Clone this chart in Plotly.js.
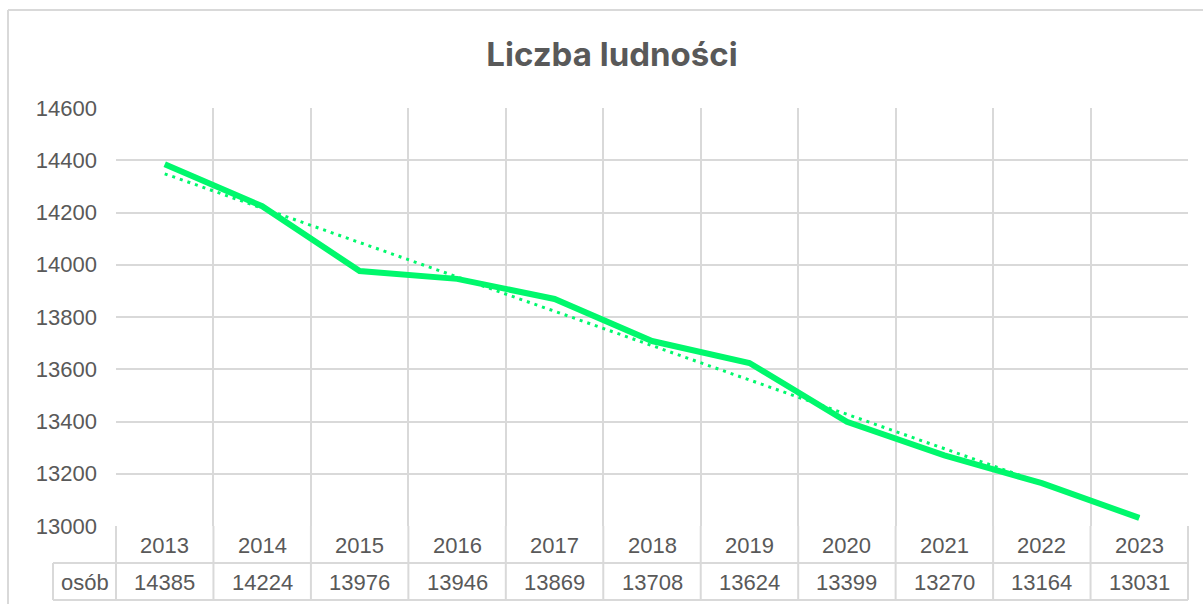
<!DOCTYPE html>
<html>
<head>
<meta charset="utf-8">
<script src="https://cdn.plot.ly/plotly-3.0.1.min.js"></script>
<style>html,body{margin:0;padding:0;background:#fff;}#chart{width:1203px;height:604px;}</style>
</head>
<body>
<div id="chart"></div>
<script>
const chartTitle = "Liczba ludności";
const years = ["2013","2014","2015","2016","2017","2018","2019","2020","2021","2022","2023"];
const population = [14385, 14224, 13976, 13946, 13869, 13708, 13624, 13399, 13270, 13164, 13031];
const rowLabel = "osób";
const yTicks = [13000, 13200, 13400, 13600, 13800, 14000, 14200, 14400, 14600];

const W = 1203, H = 604;
const L = 116, R = 1188, T = 108, B = 526;
const pw = R - L, ph = B - T;
const px2x = p => (p - L) / pw;
const px2y = p => (B - p) / ph;

const n = years.length;
const xs = years.map((_, i) => i);

// linear trend (least squares) from the data
const mx = xs.reduce((a, b) => a + b, 0) / n;
const my = population.reduce((a, b) => a + b, 0) / n;
let sxy = 0, sxx = 0;
xs.forEach((x, i) => { sxy += (x - mx) * (population[i] - my); sxx += (x - mx) * (x - mx); });
const slope = sxy / sxx, icpt = my - slope * mx;
const trend = xs.map(x => icpt + slope * x);

const grid = '#d9d9d9';
const txt = '#595959';
const green = '#00f86c';
const font = 'Liberation Sans, Arial, sans-serif';
const fs = 22;

const shapes = [];
const annotations = [];
const row1Bottom = 563, row2Bottom = 600;
// horizontal table lines
shapes.push({type:'line', xref:'paper', yref:'paper', x0:0, x1:1, y0:px2y(row1Bottom), y1:px2y(row1Bottom), line:{color:grid, width:2}});
shapes.push({type:'line', xref:'paper', yref:'paper', x0:px2x(53), x1:1, y0:px2y(row1Bottom), y1:px2y(row1Bottom), line:{color:grid, width:2}});
shapes.push({type:'line', xref:'paper', yref:'paper', x0:px2x(53), x1:1, y0:px2y(row2Bottom), y1:px2y(row2Bottom), line:{color:grid, width:2}});
// vertical table lines
for (let i = 0; i <= n; i++) {
  shapes.push({type:'line', xref:'paper', yref:'paper', x0:i/n, x1:i/n, y0:0, y1:px2y(row2Bottom), line:{color:grid, width:2}});
}
shapes.push({type:'line', xref:'paper', yref:'paper', x0:px2x(53), x1:px2x(53), y0:px2y(row1Bottom), y1:px2y(row2Bottom), line:{color:grid, width:2}});
// outer chart border (left and top)
shapes.push({type:'line', xref:'paper', yref:'paper', x0:px2x(8), x1:px2x(8), y0:px2y(10), y1:px2y(620), line:{color:grid, width:2}});
shapes.push({type:'line', xref:'paper', yref:'paper', x0:px2x(8), x1:px2x(1220), y0:px2y(10), y1:px2y(10), line:{color:grid, width:2}});

years.forEach((yr, i) => {
  annotations.push({xref:'paper', yref:'paper', x:(i+0.5)/n, y:px2y(545), text:yr, showarrow:false, xanchor:'center', yanchor:'middle', font:{family:font, size:fs, color:txt}});
  annotations.push({xref:'paper', yref:'paper', x:(i+0.5)/n, y:px2y(582), text:String(population[i]), showarrow:false, xanchor:'center', yanchor:'middle', font:{family:font, size:fs, color:txt}});
});
annotations.push({xref:'paper', yref:'paper', x:px2x(84.5), y:px2y(582), text:rowLabel, showarrow:false, xanchor:'center', yanchor:'middle', font:{family:font, size:fs, color:txt}});

const data = [
  {x: xs, y: trend, type:'scatter', mode:'lines', line:{color:green, width:3, dash:'3px,5px'}, hoverinfo:'skip'},
  {x: xs, y: population, type:'scatter', mode:'lines', line:{color:green, width:6}, name:rowLabel}
];

const layout = {
  width: W, height: H,
  margin: {l: L, r: W - R, t: T, b: H - B, pad: 0},
  paper_bgcolor: '#fff', plot_bgcolor: '#fff',
  showlegend: false,
  title: {text: chartTitle, x: 612 / W, xanchor: 'center', y: 1 - 54 / H, yanchor: 'middle', font: {family: 'Inter, Lato, sans-serif', size: 33, color: txt, weight: 700}},
  xaxis: {range: [-0.5, n - 0.5], tickvals: xs.map(x => x - 0.5).concat([n - 0.5]), showticklabels: false, ticks: '', showgrid: true, gridcolor: grid, gridwidth: 2, zeroline: false, showline: false, fixedrange: true},
  yaxis: {range: [yTicks[0], yTicks[yTicks.length - 1]], tickvals: yTicks, ticktext: yTicks.map(String), showgrid: true, gridcolor: grid, gridwidth: 2, zeroline: false, showline: false, ticks: '', ticklabelstandoff: 18, tickfont: {family: font, size: fs, color: txt}, fixedrange: true},
  shapes: shapes,
  annotations: annotations
};

Plotly.newPlot('chart', data, layout, {displayModeBar: false, staticPlot: true});
</script>
</body>
</html>
